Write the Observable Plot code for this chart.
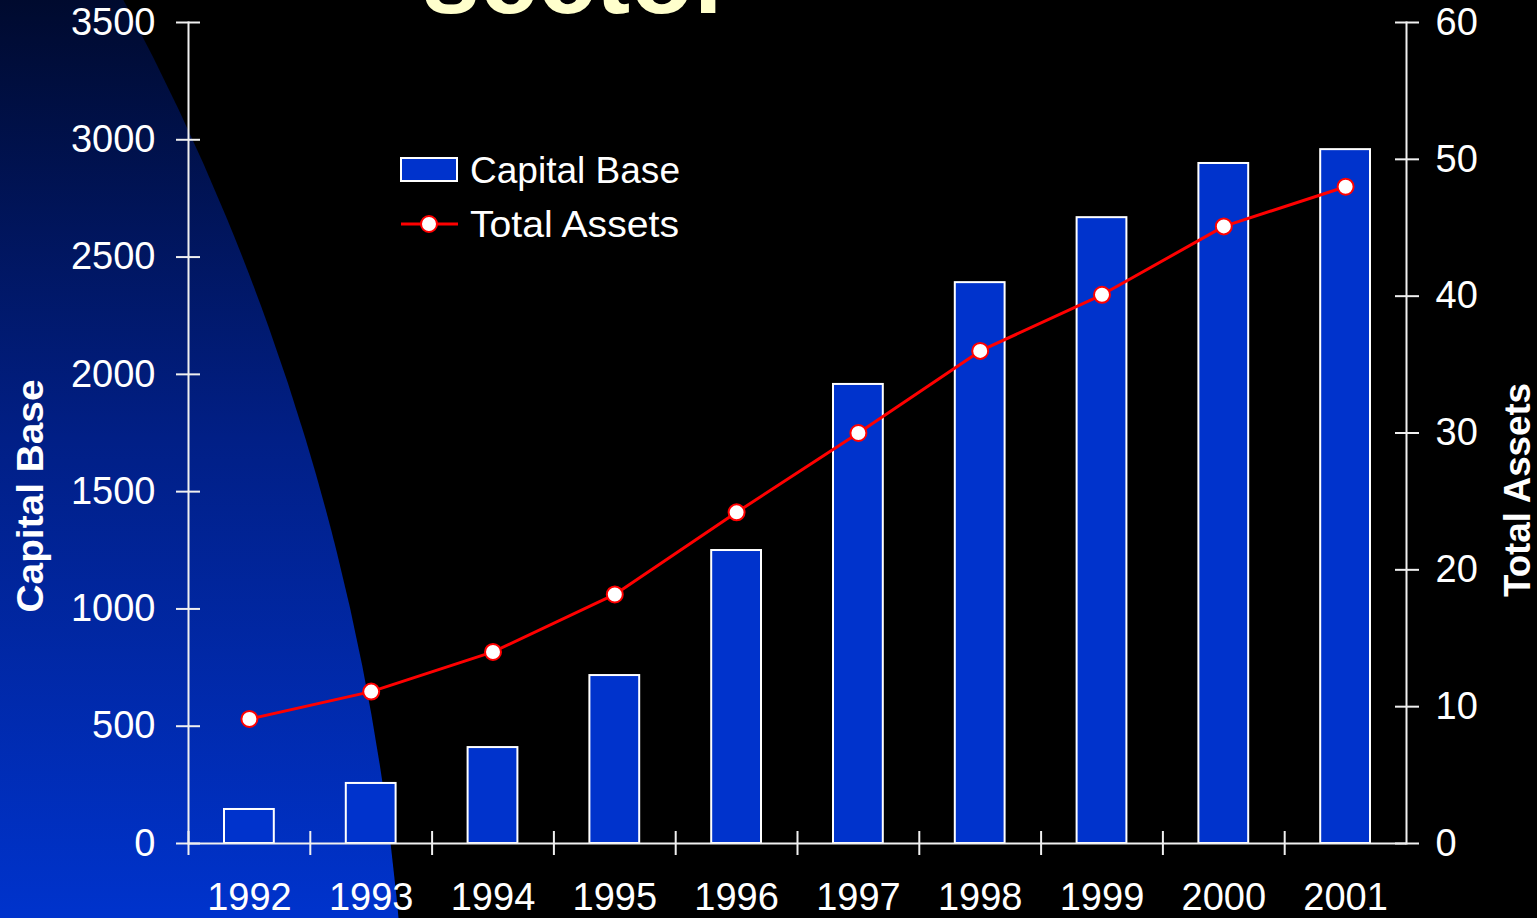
<!DOCTYPE html>
<html>
<head>
<meta charset="utf-8">
<script src="https://cdn.jsdelivr.net/npm/d3@7"></script>
<script src="https://cdn.jsdelivr.net/npm/@observablehq/plot@0.6"></script>
<style>
  html, body { margin: 0; padding: 0; background: #000; overflow: hidden; }
  #wrap { position: relative; width: 1537px; height: 918px; overflow: hidden; background: #000; }
  #bgcircle {
    position: absolute; left: -4370px; top: -1258px; width: 4778px; height: 4778px;
    border-radius: 50%;
    background: linear-gradient(to bottom, #000a2e 26.3%, #011f86 35.5%, #0033cc 45.5%);
  }
  #chart { position: absolute; left: 0; top: 0; }
  #overlay { position: absolute; left: 0; top: 0; pointer-events: none; }
</style>
</head>
<body>
<div id="wrap">
  <div id="bgcircle"></div>
  <div id="chart"></div>
  <svg id="overlay" width="1537" height="918" font-family="'Liberation Sans', Arial, sans-serif">
    <text x="422" y="13" font-size="104" font-weight="bold" fill="#FFFFCC">sector</text>
    <rect x="401" y="158" width="56" height="23" fill="#0033CC" stroke="white" stroke-width="2"></rect>
    <text x="470" y="183" font-size="37" fill="white" textLength="210" lengthAdjust="spacingAndGlyphs">Capital Base</text>
    <line x1="401" x2="458" y1="224" y2="224" stroke="#FF0000" stroke-width="3"></line>
    <circle cx="429" cy="224" r="8" fill="white" stroke="#FF0000" stroke-width="2"></circle>
    <text x="470" y="237" font-size="37" fill="white" textLength="209" lengthAdjust="spacingAndGlyphs">Total Assets</text>
    <text transform="translate(43,496) rotate(-90)" text-anchor="middle" font-size="37" font-weight="bold" fill="white" textLength="233" lengthAdjust="spacingAndGlyphs">Capital Base</text>
    <text transform="translate(1530,490) rotate(-90)" text-anchor="middle" font-size="36" font-weight="bold" fill="white" textLength="214" lengthAdjust="spacingAndGlyphs">Total Assets</text>
  </svg>
</div>
<script>
const years = ["1992","1993","1994","1995","1996","1997","1998","1999","2000","2001"];
const capitalBase = [145, 256, 409, 716, 1249, 1957, 2391, 2668, 2899, 2958];
const totalAssets = [9.1, 11.1, 14.0, 18.2, 24.2, 30.0, 36.0, 40.1, 45.1, 48.0];
const leftTicks = [0, 500, 1000, 1500, 2000, 2500, 3000, 3500];
const rightTicks = [0, 10, 20, 30, 40, 50, 60];

const leftMax = 3500, rightMax = 60;
const k = leftMax / rightMax;
const data = years.map((year, i) => ({year, capital: capitalBase[i], assets: totalAssets[i]}));
const rightTickPos = rightTicks.map(v => v * k);

const W = 1537, H = 918;
const mL = 188, mR = 131, mT = 22, mB = 75;
const step = (W - mL - mR) / years.length;

const axisColor = "#f0f0f0";

const chart = Plot.plot({
  width: W,
  height: H,
  marginLeft: mL,
  marginRight: mR,
  marginTop: mT,
  marginBottom: mB,
  style: {background: "transparent", color: "white", fontSize: "38px", fontFamily: "'Liberation Sans', Arial, sans-serif"},
  x: {type: "band", domain: years, padding: 0, round: false, axis: null},
  y: {domain: [0, leftMax], axis: null},
  marks: [
    Plot.barY(data, {x: "year", y: "capital", fill: "#0033CC", stroke: "white", strokeWidth: 2, insetLeft: 36, insetRight: 36}),
    Plot.frame({anchor: "left", stroke: axisColor, strokeWidth: 2}),
    Plot.frame({anchor: "right", stroke: axisColor, strokeWidth: 2}),
    Plot.ruleY([0], {stroke: axisColor, strokeWidth: 2}),
    // left axis ticks (crossing the axis line) and labels
    Plot.axisY(leftTicks, {anchor: "left", tickSize: 24, dx: 12, tickFormat: () => "", label: null, stroke: axisColor, strokeWidth: 2}),
    Plot.axisY(leftTicks, {anchor: "left", tickSize: 0, tickPadding: 33, tickFormat: d => String(d), label: null, fill: "white"}),
    // right axis
    Plot.axisY(rightTickPos, {anchor: "right", tickSize: 24, dx: -12, tickFormat: () => "", label: null, stroke: axisColor, strokeWidth: 2}),
    Plot.axisY(rightTickPos, {anchor: "right", tickSize: 0, tickPadding: 29, tickFormat: (d, i) => String(rightTicks[i]), label: null, fill: "white"}),
    // x axis: ticks at band boundaries, labels at band centers
    Plot.axisX({anchor: "bottom", tickSize: 24, dx: -step / 2, dy: -12, tickFormat: () => "", label: null, stroke: axisColor, strokeWidth: 2}),
    Plot.axisX({anchor: "bottom", tickSize: 0, tickPadding: 40, label: null, fill: "white"}),
    Plot.line(data, {x: "year", y: d => d.assets * k, stroke: "#FF0000", strokeWidth: 3}),
    Plot.dot(data, {x: "year", y: d => d.assets * k, r: 8, fill: "white", stroke: "#FF0000", strokeWidth: 2})
  ]
});
document.getElementById("chart").appendChild(chart);
</script>
</body>
</html>
